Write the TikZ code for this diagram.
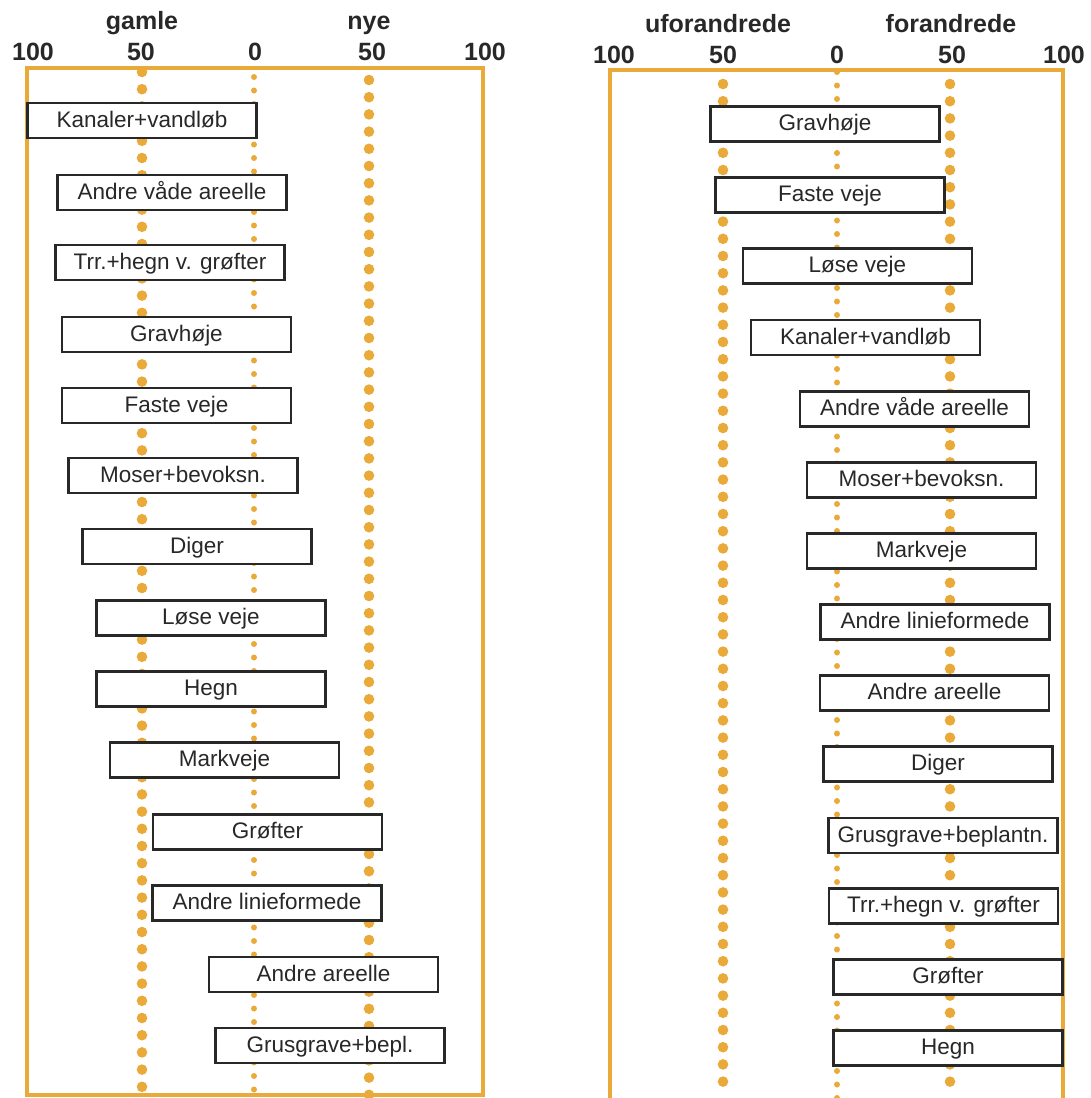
\documentclass[tikz,border=0pt]{standalone}
\usepackage{fontspec}
\setmainfont{Liberation Sans}
\definecolor{orng}{RGB}{234,170,58}
\definecolor{ink}{RGB}{40,40,40}
\tikzset{
  bar/.style={draw=ink, line width=2.9pt, fill=white, minimum width=229pt, minimum height=35pt, inner sep=0pt, text height=13.5pt, text depth=0pt, font=\fontsize{22.5}{24}\selectfont, text=ink},
  hdr/.style={font=\bfseries\fontsize{25}{27}\selectfont, text=ink, anchor=base},
  frame/.style={draw=orng, line width=3.3pt},
  bigdot/.style={fill=orng},
  smalldot/.style={fill=orng}
}
\begin{document}
\begin{tikzpicture}[x=1pt,y=-1pt]
\useasboundingbox (0,0) rectangle (1090,1098);
% frames
\draw[frame] (27,1095) -- (27,68) -- (483,68) -- (483,1095) -- cycle;
\draw[frame] (610,1100) -- (610,70) -- (1063,70) -- (1063,1100);
% dotted scale lines, left panel
\foreach \y in {72,89.2,...,1095} \fill[bigdot] (142,\y) circle (5.3);
\foreach \y in {80,97.2,...,1095} \fill[bigdot] (369,\y) circle (5.3);
\foreach \y in {77,90.5,...,1095} \fill[smalldot] (254,\y) circle (3);
% dotted scale lines, right panel
\foreach \y in {84,101.2,...,1098} \fill[bigdot] (723,\y) circle (5.3);
\foreach \y in {84,101.2,...,1098} \fill[bigdot] (950,\y) circle (5.3);
\foreach \y in {72,85.5,...,1098} \fill[smalldot] (837,\y) circle (3);
% headers left
\node[hdr] (hgamle) at (142,29) {gamle};
\node[hdr] (hnye) at (369,29) {nye};
\node[hdr] (l100a) at (33,60) {100};
\node[hdr] (l50a) at (141,60) {50};
\node[hdr] (l0) at (255,60) {0};
\node[hdr] (l50b) at (372,60) {50};
\node[hdr] (l100b) at (485,60) {100};
% headers right
\node[hdr] (hufor) at (718,32) {uforandrede};
\node[hdr] (hfor) at (951,32) {forandrede};
\node[hdr] (r100a) at (614,63) {100};
\node[hdr] (r50a) at (723,63) {50};
\node[hdr] (r0) at (837,63) {0};
\node[hdr] (r50b) at (952,63) {50};
\node[hdr] (r100b) at (1064,63) {100};
% left boxes
\node[bar] (L1) at (142,120.5) {Kanaler+vandløb};
\node[bar] (L2) at (172,192.5) {Andre våde areelle};
\node[bar] (L3) at (170,262.5) {Trr.+hegn v. grøfter};
\node[bar] (L4) at (176.5,334.5) {Gravhøje};
\node[bar] (L5) at (176.5,405.5) {Faste veje};
\node[bar] (L6) at (183,475.5) {Moser+bevoksn.};
\node[bar] (L7) at (197,546.5) {Diger};
\node[bar] (L8) at (211,618) {Løse veje};
\node[bar] (L9) at (211,689) {Hegn};
\node[bar] (L10) at (224.5,760) {Markveje};
\node[bar] (L11) at (267.5,832) {Grøfter};
\node[bar] (L12) at (267,903) {Andre linieformede};
\node[bar] (L13) at (323.5,974.5) {Andre areelle};
\node[bar] (L14) at (330,1045.5) {Grusgrave+bepl.};
% right boxes
\node[bar] (R1) at (825,124) {Gravhøje};
\node[bar] (R2) at (830,195) {Faste veje};
\node[bar] (R3) at (857.5,266) {Løse veje};
\node[bar] (R4) at (865.5,337.5) {Kanaler+vandløb};
\node[bar] (R5) at (914.5,409) {Andre våde areelle};
\node[bar] (R6) at (921.5,480) {Moser+bevoksn.};
\node[bar] (R7) at (921.5,551) {Markveje};
\node[bar] (R8) at (935,622) {Andre linieformede};
\node[bar] (R9) at (934.5,693) {Andre areelle};
\node[bar] (R10) at (938,764) {Diger};
\node[bar] (R11) at (943,835.5) {Grusgrave+beplantn.};
\node[bar] (R12) at (943.5,906) {Trr.+hegn v. grøfter};
\node[bar] (R13) at (948,977) {Grøfter};
\node[bar] (R14) at (948,1048) {Hegn};
\end{tikzpicture}
\end{document}
